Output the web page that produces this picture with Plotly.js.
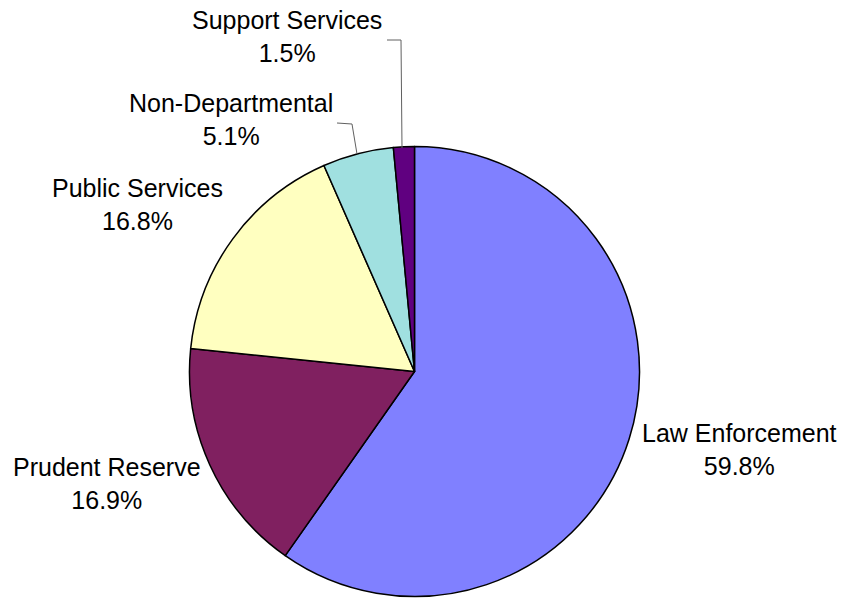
<!DOCTYPE html>
<html>
<head>
<meta charset="utf-8">
<script src="https://cdn.plot.ly/plotly-3.0.1.min.js"></script>
<style>html,body{margin:0;padding:0;background:#fff;}#chart{width:845px;height:599px;}</style>
</head>
<body>
<div id="chart"></div>
<script>
const categories = ["Law Enforcement", "Prudent Reserve", "Public Services", "Non-Departmental", "Support Services"];
const shares = [59.8, 16.9, 16.8, 5.1, 1.5];
const colors = ["#8080FF", "#802060", "#FFFFC0", "#A0E0E0", "#600080"];

const W = 845, H = 599;
// label centres (pixels) for each category
const labelPos = [[739, 449], [107, 483], [137, 205], [231, 120], [287, 37]];
const px = x => x / W, py = y => 1 - y / H;

const annotations = categories.map((c, i) => ({
  xref: "paper", yref: "paper",
  x: px(labelPos[i][0]), y: py(labelPos[i][1]),
  xanchor: "center", yanchor: "middle",
  text: c + "<br>" + shares[i].toFixed(1) + "%",
  showarrow: false, align: "center",
  font: {family: "Liberation Sans, Arial, sans-serif", size: 25, color: "#000"}
}));

const leader = (pts) => ({
  type: "path", xref: "paper", yref: "paper",
  path: "M" + pts.map(p => px(p[0]) + "," + py(p[1])).join(" L"),
  line: {color: "#606060", width: 1}
});

const shapes = [
  leader([[387, 40], [401, 40], [402, 148]]),
  leader([[337, 123], [352, 124], [357, 154]])
];

const cx = 414.5, cy = 371.5, r = 225;

Plotly.newPlot("chart", [{
  type: "pie",
  labels: categories,
  values: shares,
  sort: false,
  direction: "clockwise",
  rotation: 0,
  textinfo: "none",
  hoverinfo: "label+percent",
  marker: {colors: colors, line: {color: "#000", width: 1.5}},
  domain: {x: [px(cx - r), px(cx + r)], y: [py(cy + r), py(cy - r)]}
}], {
  width: W, height: H,
  margin: {l: 0, r: 0, t: 0, b: 0},
  showlegend: false,
  paper_bgcolor: "#fff",
  annotations: annotations,
  shapes: shapes
}, {displayModeBar: false, staticPlot: true});
</script>
</body>
</html>
